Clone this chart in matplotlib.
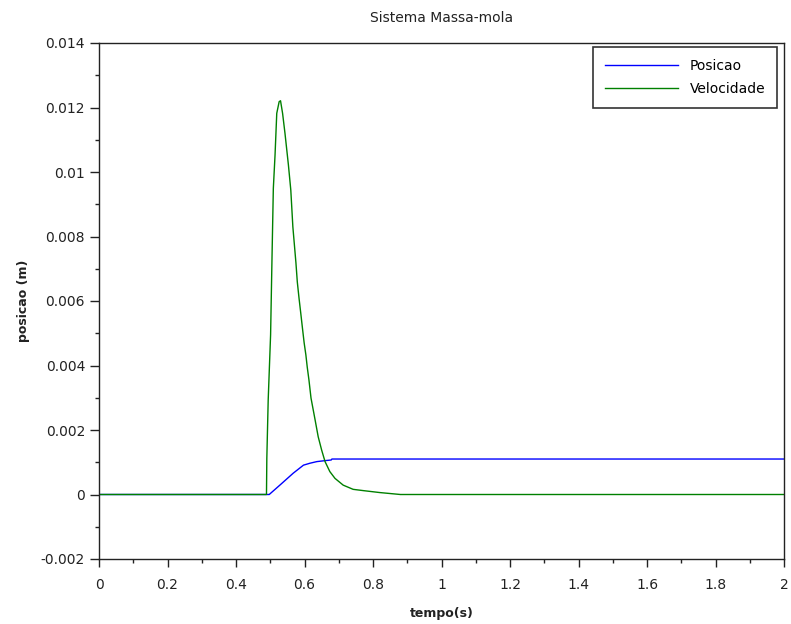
import matplotlib
matplotlib.use("Agg")
import matplotlib.pyplot as plt
from matplotlib.ticker import MultipleLocator, FuncFormatter

# Mass-spring system response: time (s) and signals
t_vel = [0.0, 0.489, 0.490, 0.494, 0.501, 0.505, 0.509, 0.514, 0.519, 0.526,
         0.530, 0.536, 0.543, 0.553, 0.560, 0.566, 0.575, 0.579, 0.584, 0.589,
         0.594, 0.599, 0.604, 0.608, 0.613, 0.619, 0.631, 0.640, 0.650, 0.660,
         0.674, 0.689, 0.713, 0.742, 0.772, 0.820, 0.880, 2.0]
velocidade = [0.0, 0.0, 1.12e-3, 2.93e-3, 4.95e-3, 7.27e-3, 9.49e-3, 10.53e-3,
              11.82e-3, 12.18e-3, 12.21e-3, 11.82e-3, 11.2e-3, 10.22e-3, 9.44e-3,
              8.30e-3, 7.18e-3, 6.59e-3, 6.09e-3, 5.63e-3, 5.16e-3, 4.70e-3,
              4.33e-3, 3.95e-3, 3.55e-3, 2.99e-3, 2.31e-3, 1.79e-3, 1.38e-3,
              1.02e-3, 0.71e-3, 0.50e-3, 0.29e-3, 0.16e-3, 0.12e-3, 0.06e-3,
              0.0, 0.0]

t_pos = [0.0, 0.497, 0.528, 0.567, 0.597, 0.616, 0.636, 0.660, 0.678, 0.680, 2.0]
posicao = [0.0, 0.0, 0.29e-3, 0.66e-3, 0.91e-3, 0.97e-3, 1.02e-3, 1.05e-3,
           1.07e-3, 1.10e-3, 1.10e-3]

W, H = 791, 624
fig = plt.figure(figsize=(W / 100, H / 100), dpi=100)
ax = fig.add_axes([99 / W, 1 - 559 / H, (784 - 99) / W, (559 - 43) / H])

ax.plot(t_pos, posicao, color=(0, 0, 1), lw=1.0, label="Posicao")
ax.plot(t_vel, velocidade, color=(0, 0.5, 0), lw=1.0, label="Velocidade")

ax.set_xlim(0, 2)
ax.set_ylim(-0.002, 0.014)
ax.xaxis.set_major_locator(MultipleLocator(0.2))
ax.xaxis.set_minor_locator(MultipleLocator(0.1))
ax.yaxis.set_major_locator(MultipleLocator(0.002))
ax.yaxis.set_minor_locator(MultipleLocator(0.001))

def fmt(v, _):
    s = f"{v:.3f}".rstrip("0").rstrip(".")
    if s in ("-0", ""):
        s = "0"
    return s

ax.xaxis.set_major_formatter(FuncFormatter(fmt))
ax.yaxis.set_major_formatter(FuncFormatter(fmt))

ax.tick_params(which="both", direction="out", top=False, right=False,
               colors="#222222", labelcolor="#222222", width=1.0)
ax.tick_params(axis="y", which="major", length=6.5, pad=3.5, labelsize=10)
ax.tick_params(axis="x", which="major", length=5.5, pad=8, labelsize=10)
ax.tick_params(which="minor", length=3)
for sp in ax.spines.values():
    sp.set_color("#222222")
    sp.set_linewidth(1.0)

ax.set_title("Sistema Massa-mola", fontsize=10, pad=15, color="#222222")
ax.set_xlabel("tempo(s)", fontsize=9, fontweight="bold", labelpad=11,
              color="#222222")
ax.set_ylabel("posicao (m)", fontsize=9, fontweight="bold", labelpad=7.5,
              color="#222222")

leg = ax.legend(loc="upper right", bbox_to_anchor=(0.9898, 0.992),
                fontsize=10, frameon=True, fancybox=False, shadow=False,
                handlelength=5.3, handletextpad=0.8, borderpad=0.85,
                labelspacing=0.65, borderaxespad=0.0)
leg.get_frame().set_edgecolor("#333333")
leg.get_frame().set_linewidth(1.2)
leg.get_frame().set_alpha(1.0)

fig.savefig("out.png", dpi=100)
